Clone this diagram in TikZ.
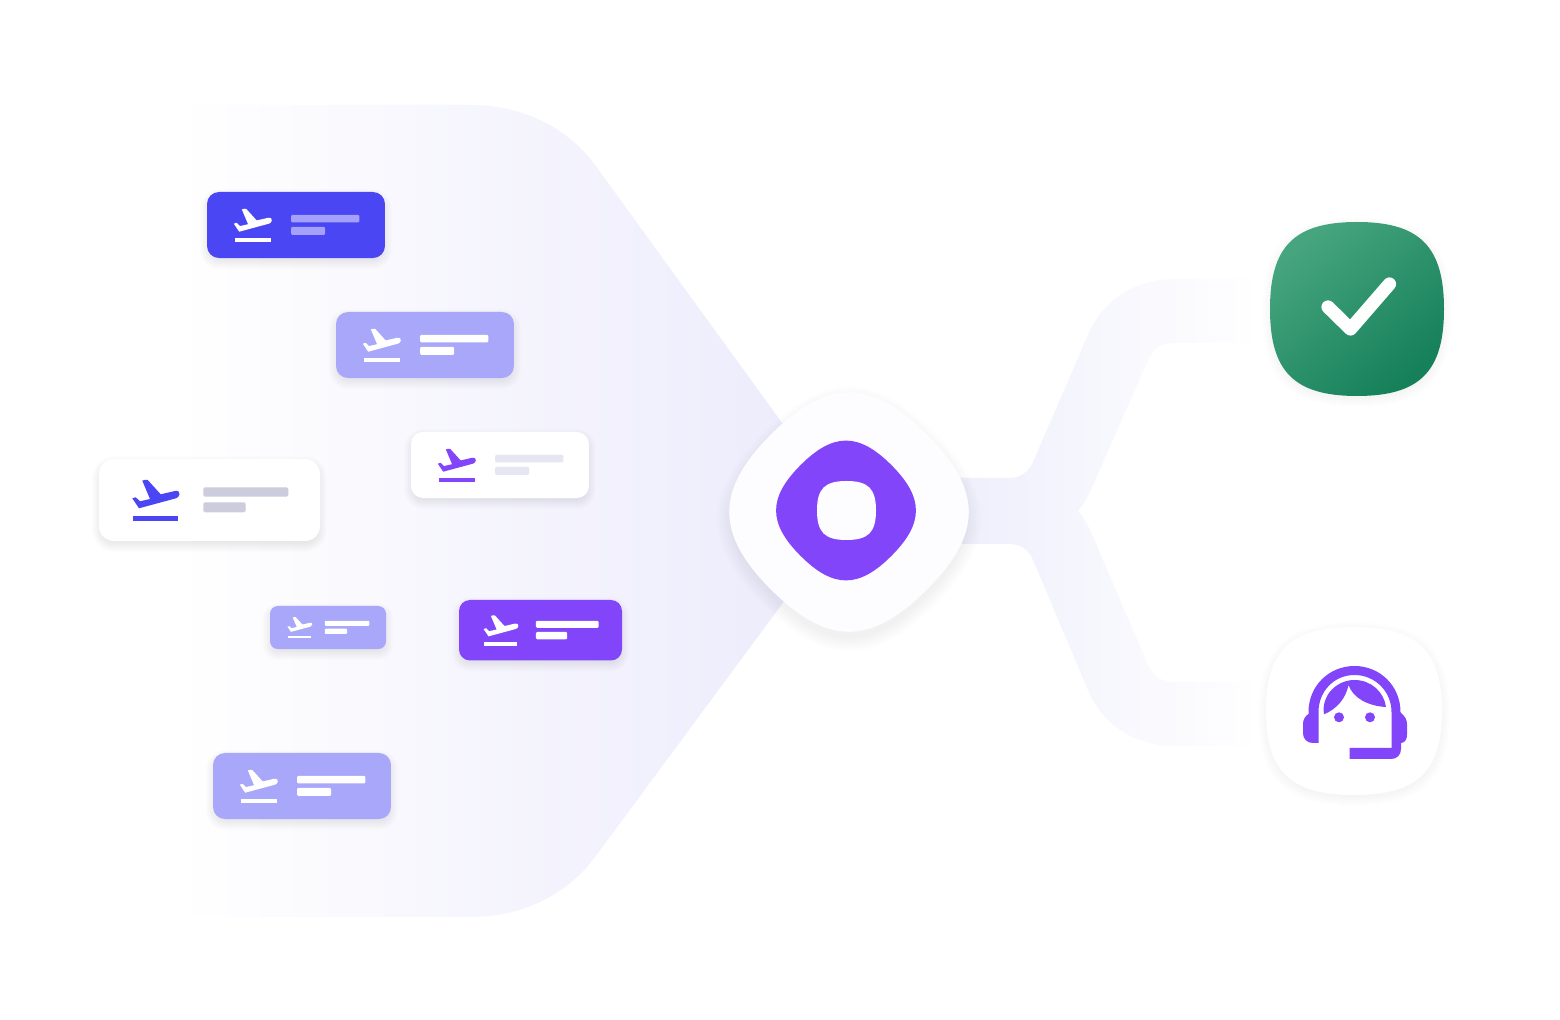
\documentclass[tikz,border=0pt]{standalone}
\definecolor{vio}{HTML}{8245FA}
\definecolor{ind}{HTML}{4A46F3}
\definecolor{lav}{HTML}{A8A7F9}
\definecolor{funnel}{HTML}{EDECFC}
\definecolor{branch}{HTML}{EEEEFC}
\definecolor{softwhite}{HTML}{FDFCFF}
\definecolor{shadowtint}{HTML}{26265E}
\definecolor{greenlight}{HTML}{46A57E}
\definecolor{greendark}{HTML}{15805A}
\definecolor{baron}{HTML}{CCCCDC}
\definecolor{baroff}{HTML}{E6E6F2}
\definecolor{barin}{HTML}{A3A1F9}
\newcommand\sqpath[5]{(#1,{#2-(#4)}) .. controls ({#1+(#3)*#5},{#2-(#4)}) and ({#1+(#3)},{#2-(#4)*#5}) .. ({#1+(#3)},#2) .. controls ({#1+(#3)},{#2+(#4)*#5}) and ({#1+(#3)*#5},{#2+(#4)}) .. (#1,{#2+(#4)}) .. controls ({#1-(#3)*#5},{#2+(#4)}) and ({#1-(#3)},{#2+(#4)*#5}) .. ({#1-(#3)},#2) .. controls ({#1-(#3)},{#2-(#4)*#5}) and ({#1-(#3)*#5},{#2-(#4)}) .. (#1,{#2-(#4)}) -- cycle}
% x, y, scale, card fill, icon colour, bar colour
\newcommand\flightcard[6]{%
  \pgfmathsetmacro\rr{15*#3*0.5}%
  \pgfmathsetmacro\rb{1.6*#3*0.5}%
  \begin{scope}[shift={(#1,#2)},scale=#3]
    \foreach \i in {-2,...,7}{
      \fill[shadowtint,opacity=0.009,rounded corners=\rr pt+\i*0.5pt]
        ({0-\i/#3},{(4-\i)/#3}) rectangle ({221+\i/#3},{82+(4+\i)/#3});
    }
    \fill[#4,rounded corners=\rr pt] (0,0) rectangle (221,82);
    \fill[#5] (33.3,39.3) -- (36.7,38.3) -- (41,42.3) -- (51,40) -- (43.3,21.7)
      .. controls (44.5,20.6) and (47.5,20.6) .. (48.7,21) -- (61.7,35.3) -- (76,32)
      .. controls (79,31.2) and (81,33) .. (80.5,35.5)
      .. controls (80.2,37.5) and (78.5,38.8) .. (77,39.3) -- (40,49.3) -- cycle;
    \fill[#5] (34.3,57) rectangle (79,61.7);
    \fill[#6,rounded corners=\rb pt] (104.3,28.3) rectangle (189.3,37.7);
    \fill[#6,rounded corners=\rb pt] (104.3,43.3) rectangle (146.7,53.3);
  \end{scope}}
\begin{document}
\begin{tikzpicture}[x=0.5pt,y=-0.5pt]
\useasboundingbox (0,0) rectangle (1560,1020);
\fill[white] (0,0) rectangle (1560,1020);

% left funnel
\shade[left color=white,right color=funnel]
  (175,105) -- (470,105) .. controls (520,105) and (565,125) .. (595,165)
  -- (785,427) -- (785,600) -- (595,857)
  .. controls (565,897) and (520,917) .. (470,917) -- (175,917) -- cycle;

% right branching band
\shade[left color=branch,right color=white]
  (940,478) -- (1010,478) .. controls (1020,478) and (1029,472) .. (1033,462)
  -- (1088,335) .. controls (1103,300) and (1135,279) .. (1175,279) -- (1262,279)
  -- (1262,343) -- (1175,343) .. controls (1161,343) and (1154,348) .. (1148,360)
  -- (1093,485) .. controls (1089,495) and (1084,504) .. (1078,511)
  .. controls (1084,518) and (1089,527) .. (1093,537)
  -- (1148,665) .. controls (1154,677) and (1161,682) .. (1175,682) -- (1262,682)
  -- (1262,746) -- (1175,746) .. controls (1135,746) and (1103,725) .. (1088,690)
  -- (1033,560) .. controls (1029,550) and (1020,544) .. (1010,544) -- (940,544) -- cycle;

% flight cards
\flightcard{207}{192}{0.8054}{ind}{white}{barin}
\flightcard{336}{312}{0.8054}{lav}{white}{white}
\flightcard{411}{432}{0.8054}{white}{vio}{baroff}
\flightcard{99}{459}{1}{white}{ind}{baron}
\flightcard{270}{606}{0.525}{lav}{white}{white}
\flightcard{459}{600}{0.7376}{vio}{white}{white}
\flightcard{213}{753}{0.8054}{lav}{white}{white}

% central badge
\foreach \i in {0,...,13}{
  \fill[shadowtint,opacity=0.0035,rotate around={45:(849,519)}] \sqpath{849}{519}{109+\i}{109+\i}{0.72};
}
\fill[softwhite,rotate around={45:(849,512)}] \sqpath{849}{512}{110}{110}{0.72};
\fill[vio,rotate around={45:(846,510.5)}] \sqpath{846}{510.5}{64.2}{64.2}{0.72};
\fill[softwhite] \sqpath{846.5}{510.5}{29.5}{29.5}{0.74};

% green check badge
\foreach \i in {0,...,9}{
  \fill[shadowtint,opacity=0.004] \sqpath{1357}{312}{86+\i}{86+\i}{0.72};
}
\shade[top color=greenlight,bottom color=greendark,shading angle=40]
  \sqpath{1357}{309}{87}{87}{0.72};
\coordinate (chkA) at (1328,307);
\coordinate (chkB) at (1350.5,329);
\coordinate (chkC) at (1389.5,284);
\draw[white,line width=6.6pt,line cap=round,line join=round] (chkA) -- (chkB) -- (chkC);

% headset badge
\foreach \i in {0,...,9}{
  \fill[shadowtint,opacity=0.0035] \sqpath{1354}{714}{87+\i}{83+\i}{0.72};
}
\fill[white] \sqpath{1354}{711}{88}{84}{0.72};
\fill[vio]
  (1318.5,743) -- (1318.5,712)
  .. controls (1318.5,691.5) and (1334,675) .. (1354.5,675)
  .. controls (1375,675) and (1391.5,691.5) .. (1391.5,712)
  -- (1391.5,748) -- (1349.5,748) -- (1349.5,759) -- (1391,759)
  .. controls (1397,759) and (1401,755) .. (1401,749)
  -- (1401,743) .. controls (1405,743) and (1407,739) .. (1407,735)
  -- (1407,724) .. controls (1407,720) and (1405,716) .. (1401,713)
  -- (1400.5,712)
  .. controls (1400.5,686) and (1380,666) .. (1354.5,666)
  .. controls (1329,666) and (1308.5,686) .. (1308.5,712)
  -- (1308.5,714) .. controls (1305,716) and (1303,720) .. (1303,724)
  -- (1303,733) .. controls (1303,739) and (1307,743) .. (1313,743) -- cycle;
\fill[vio]
  (1324,714.3) .. controls (1321,695) and (1337,680) .. (1354.5,680)
  .. controls (1371,680) and (1384,692) .. (1386,707)
  .. controls (1368,706) and (1353,698) .. (1348.5,685)
  .. controls (1346,698) and (1337,709) .. (1324,714.3) -- cycle;
\fill[vio] (1339,717.3) circle[radius=5];
\fill[vio] (1370,717.3) circle[radius=5];
\end{tikzpicture}
\end{document}
